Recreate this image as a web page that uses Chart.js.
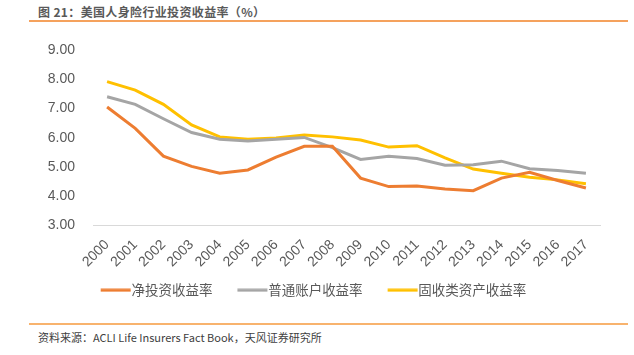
<!DOCTYPE html>
<html><head><meta charset="utf-8">
<script src="https://cdn.jsdelivr.net/npm/chart.js@4"></script>
<style>
html,body{margin:0;padding:0;background:#fff;width:634px;height:355px;overflow:hidden;}
#title{position:absolute;left:38px;top:3px;font:bold 12px "Noto Sans CJK SC",sans-serif;letter-spacing:0.35px;color:#595959;white-space:nowrap;}
#rule1{position:absolute;left:29px;top:20px;width:599px;height:2px;background:#F5A25D;}
#rule2{position:absolute;left:29px;top:323px;width:599px;height:2px;background:#F8B36E;}
#src{position:absolute;left:38px;top:329px;font:11px "Noto Sans CJK SC",sans-serif;color:#404040;white-space:nowrap;}
#wrap{position:absolute;left:0;top:0;width:634px;height:309px;}
</style></head>
<body>
<div id="title">图 21：美国人身险行业投资收益率（%）</div>
<div id="rule1"></div>
<div id="wrap"><canvas id="c"></canvas></div>
<div id="rule2"></div>
<div id="src">资料来源：ACLI Life Insurers Fact Book，天风证券研究所</div>
<script>
const years = ["2000","2001","2002","2003","2004","2005","2006","2007","2008","2009","2010","2011","2012","2013","2014","2015","2016","2017"];
const netInvestmentYield = [7.05,6.32,5.37,5.02,4.79,4.90,5.34,5.71,5.71,4.62,4.33,4.35,4.25,4.19,4.62,4.82,4.54,4.28];
const generalAccountYield = [7.40,7.14,6.65,6.18,5.95,5.89,5.95,6.01,5.66,5.26,5.37,5.29,5.06,5.08,5.20,4.94,4.88,4.79];
const fixedIncomeYield = [7.92,7.63,7.14,6.44,6.03,5.95,5.99,6.09,6.03,5.92,5.68,5.73,5.31,4.93,4.79,4.65,4.56,4.43];
const seriesNames = ["净投资收益率","普通账户收益率","固收类资产收益率"];
const yTicks = [3,4,5,6,7,8,9];

const colors = ["#ED7D31","#A5A5A5","#FFC000"];
const seriesData = [netInvestmentYield, generalAccountYield, fixedIncomeYield];

// legend swatch: 30px line, ending ~3px before the label text
function legendSwatch(color){
  const c = document.createElement('canvas');
  c.width = 56; c.height = 4;
  const g = c.getContext('2d');
  g.fillStyle = color;
  g.fillRect(22, 0.5, 30, 3);
  return c;
}

new Chart(document.getElementById('c'), {
  type: 'line',
  data: {
    labels: years,
    datasets: seriesData.map((d,i)=>({
      label: seriesNames[i],
      data: d,
      borderColor: colors[i],
      backgroundColor: colors[i],
      borderWidth: 3,
      pointRadius: 0,
      pointStyle: legendSwatch(colors[i]),
      tension: 0,
      fill: false,
      yAxisID: 'y'
    }))
  },
  options: {
    responsive: true,
    maintainAspectRatio: false,
    animation: false,
    layout: { padding: { left: 0, right: 19, top: 50, bottom: 2 } },
    plugins: {
      legend: {
        position: 'bottom',
        labels: {
          usePointStyle: true,
          pointStyleWidth: 36,
          boxHeight: 4,
          font: { family: '"Noto Sans CJK SC", sans-serif', size: 13.5 },
          color: '#595959',
          padding: 13
        }
      },
      tooltip: { enabled: false }
    },
    scales: {
      x: {
        offset: true,
        grid: { display: false, drawTicks: false },
        border: { display: true, color: '#D9D9D9', width: 1 },
        afterFit: (s) => { s.height = 45; },
        ticks: {
          maxRotation: 45, minRotation: 45, autoSkip: false,
          padding: 11,
          font: { family: '"Liberation Sans", Arial, sans-serif', size: 14 },
          color: '#595959'
        }
      },
      y: {
        min: 3, max: 9,
        afterBuildTicks: (s) => { s.ticks = yTicks.map(v=>({value:v})); },
        afterFit: (s) => { s.width = 93; },
        grid: { display: false, drawTicks: false },
        border: { display: false },
        ticks: {
          padding: 18,
          callback: (v) => Number(v).toFixed(2),
          font: { family: '"Liberation Sans", Arial, sans-serif', size: 14 },
          color: '#595959'
        }
      },
      yRight: {
        position: 'right',
        display: true,
        min: 3, max: 9,
        grid: { display: false, drawTicks: false },
        border: { display: false },
        ticks: { display: false },
        afterFit: (s) => { s.width = 15; }
      }
    }
  }
});
</script>
</body></html>
